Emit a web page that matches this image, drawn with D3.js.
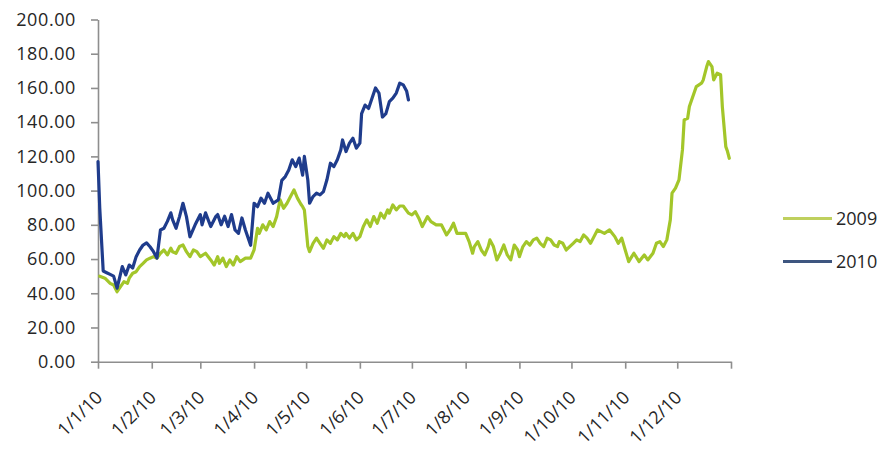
<!DOCTYPE html>
<html>
<head>
<meta charset="utf-8">
<script src="https://cdn.jsdelivr.net/npm/d3@7"></script>
<style>
  html, body { margin: 0; padding: 0; background: #ffffff; }
  svg { display: block; }
  text { font-family: "Open Sans", "Liberation Sans", sans-serif; fill: #262626; }
</style>
</head>
<body>
<svg id="chart" width="886" height="457"></svg>
<script>
// ---- data (days counted from 1 Jan; both years plotted on the same calendar axis) ----
const seriesNames = ["2009", "2010"];
const yTickValues = [0, 20, 40, 60, 80, 100, 120, 140, 160, 180, 200];
const monthTickLabels = ["1/1/10","1/2/10","1/3/10","1/4/10","1/5/10","1/6/10","1/7/10","1/8/10","1/9/10","1/10/10","1/11/10","1/12/10",""];

const days2009 = [1,4,7,9,11,13,15,17,18,20,22,24,26,28,30,32,34,36,38,40,42,43,45,47,49,51,53,55,57,59,62,65,67,69,70,72,74,76,78,80,82,85,88,90,92,93,95,97,99,101,103,105,107,109,111,113,115,117,118,119,121,122,124,126,128,130,132,134,136,138,140,142,143,145,147,149,151,153,155,157,159,161,163,165,167,168,170,172,174,176,179,181,183,185,187,190,192,195,198,201,203,205,207,209,212,214,216,217,219,221,223,225,226,228,230,232,234,236,238,240,242,243,245,247,249,251,253,255,257,259,261,263,265,266,268,270,272,274,276,278,280,282,284,286,288,290,292,295,298,300,302,304,306,309,312,315,317,320,322,324,326,328,330,331,333,335,337,338,340,341,343,345,348,349,351,352,354,355,357,359,360,362,363,364];
const values2009 = [50,48.8,45.8,44.8,40.9,43.9,46.8,45.8,48.8,51.7,52.6,55.6,57.5,59.5,60.5,61.4,60.5,63.4,65.3,62.4,66.3,64.3,63.4,67.3,68.2,64.3,61.4,65.3,64.3,61.4,63.4,59.5,56.5,61.4,57.5,60.5,55.6,59.5,56.5,61.4,58.5,60.5,60.5,65.3,78,75,80,77,81.9,79,84.8,94.6,89.7,92.6,96.5,100.4,95.6,92,90.6,88.7,67.3,64.3,69.2,72.2,69.2,66.3,71.2,69.2,73.1,71.2,75,73.1,75,72.2,75,71.2,73.1,79,82.9,79,84.8,80.9,86.8,83.9,88.7,86.8,91.6,88.7,91,91,86.8,85.8,87.7,83.9,79,84.8,81.9,80,80,74.1,77,80.9,75,75,75,70.2,63.4,67.3,70.2,65.3,62.4,67.3,71.2,67.3,59.5,63.4,68.2,62.4,59.5,68.2,65.3,61.4,67.3,70.2,68.2,71.2,72.2,69.2,67.3,72.2,71.2,68.2,67.3,70.2,69.2,65.3,67.3,69.2,71.2,70.2,74.1,72.2,69.2,73.1,77,76,75,77,73.1,69.2,72.2,65.3,58.5,63.4,58.5,62.4,59.5,63.4,69.2,70.2,67.3,71.2,82.9,98.5,101.4,106.3,123.8,141.3,142.3,149.1,155,160.8,162.8,164.7,172.5,175.4,172.5,164.7,168.6,167.7,149.1,125.7,122.8,118.9];

const days2010 = [0,1,3,5,7,9,11,14,16,18,20,22,24,26,28,30,32,34,36,38,40,42,43,45,47,49,51,53,56,59,60,62,65,68,69,71,73,75,77,79,81,83,85,88,90,92,94,96,98,101,104,106,108,110,112,114,116,118,119,121,122,124,126,128,130,132,134,136,138,140,141,143,145,147,149,151,152,154,156,158,160,162,164,166,168,170,172,174,176,178,179];
const values2010 = [117,90,53,52,51,50,43,55.6,50.7,56.5,54.8,61.4,65.3,68.2,69.4,67.2,64.3,60.6,77,78,82,87,83,78,84.8,92.6,84.8,73,80,86,80,87,79,85,86,80,85,79,86,77,75,84,77,68,92.6,90.6,95.6,92.6,98.5,92.6,94.6,106,108.2,112,118,114,119,109,120,106,92.6,96.5,98.5,97.5,99.4,106.3,116,114,118,123.8,129.6,122.8,127.7,130.6,124.8,127.7,145,150,148,154,160,157,143,145,152,154,157,162.8,161.8,158,153];

const seriesColors = ["#a3c62a", "#1f3c8c"];
const legendColors = ["#bfd05e", "#3e5680"];

// ---- setup ----
const svg = d3.select("#chart");
const start = new Date(2010, 0, 1);
const end = new Date(2011, 0, 1);
const x = d3.scaleTime().domain([start, end]).range([98, 731]);
const y = d3.scaleLinear().domain([0, 200]).range([361.7, 19.5]);

const toDate = d => d3.timeDay.offset(start, d);
const series = [
  { name: seriesNames[0], pts: days2009.map((d, i) => ({ date: toDate(d), v: values2009[i] })) },
  { name: seriesNames[1], pts: days2010.map((d, i) => ({ date: toDate(d), v: values2010[i] })) }
];

// ---- axes ----
const axisColor = "#8e8e8e";
const yAxis = d3.axisLeft(y).tickValues(yTickValues).tickFormat(d3.format(".2f"))
  .tickSize(7).tickSizeOuter(0).tickPadding(15);
const gy = svg.append("g").attr("transform", "translate(98,0)").call(yAxis);
gy.select(".domain").attr("stroke", axisColor).attr("stroke-width", 1.6);
gy.selectAll(".tick line").attr("stroke", axisColor).attr("stroke-width", 1.6);
gy.selectAll(".tick text").attr("font-size", "18px").attr("fill", "#262626")
  .style("font-family", "'Open Sans', sans-serif").attr("letter-spacing", "0.6px");

const monthTicks = d3.timeMonth.range(start, d3.timeDay.offset(end, 1));
const xAxis = d3.axisBottom(x).tickValues(monthTicks)
  .tickFormat((d, i) => monthTickLabels[i])
  .tickSize(7).tickSizeOuter(0);
const gx = svg.append("g").attr("transform", "translate(0,361.7)").call(xAxis);
gx.select(".domain").attr("stroke", axisColor).attr("stroke-width", 1.6);
gx.selectAll(".tick line").attr("stroke", axisColor).attr("stroke-width", 1.6);
gx.selectAll(".tick text")
  .attr("font-size", "18px").attr("fill", "#262626")
  .style("font-family", "'Open Sans', sans-serif")
  .attr("text-anchor", "end")
  .attr("x", 5).attr("y", 37).attr("dy", 0)
  .attr("transform", "rotate(-45, 5, 37)");

// ---- lines ----
const line = d3.line().x(d => x(d.date)).y(d => y(d.v)).curve(d3.curveLinear);
svg.append("g").selectAll("path.series").data(series).join("path")
  .attr("class", "series")
  .attr("d", s => line(s.pts))
  .attr("fill", "none")
  .attr("stroke", (s, i) => seriesColors[i])
  .attr("stroke-width", 3.2)
  .attr("stroke-linejoin", "round")
  .attr("stroke-linecap", "round");

// ---- legend ----
const legendY = d3.scalePoint().domain(seriesNames).range([218.5, 261.5]);
const lg = svg.append("g").selectAll("g").data(seriesNames).join("g")
  .attr("transform", d => `translate(783,${legendY(d)})`);
lg.append("line").attr("x1", 0).attr("x2", 49).attr("y1", 0).attr("y2", 0)
  .attr("stroke", (d, i) => legendColors[i]).attr("stroke-width", 3);
lg.append("text").attr("x", 53).attr("y", 0).attr("dy", "0.36em")
  .attr("font-size", "18px").text(d => d);
</script>
</body>
</html>
